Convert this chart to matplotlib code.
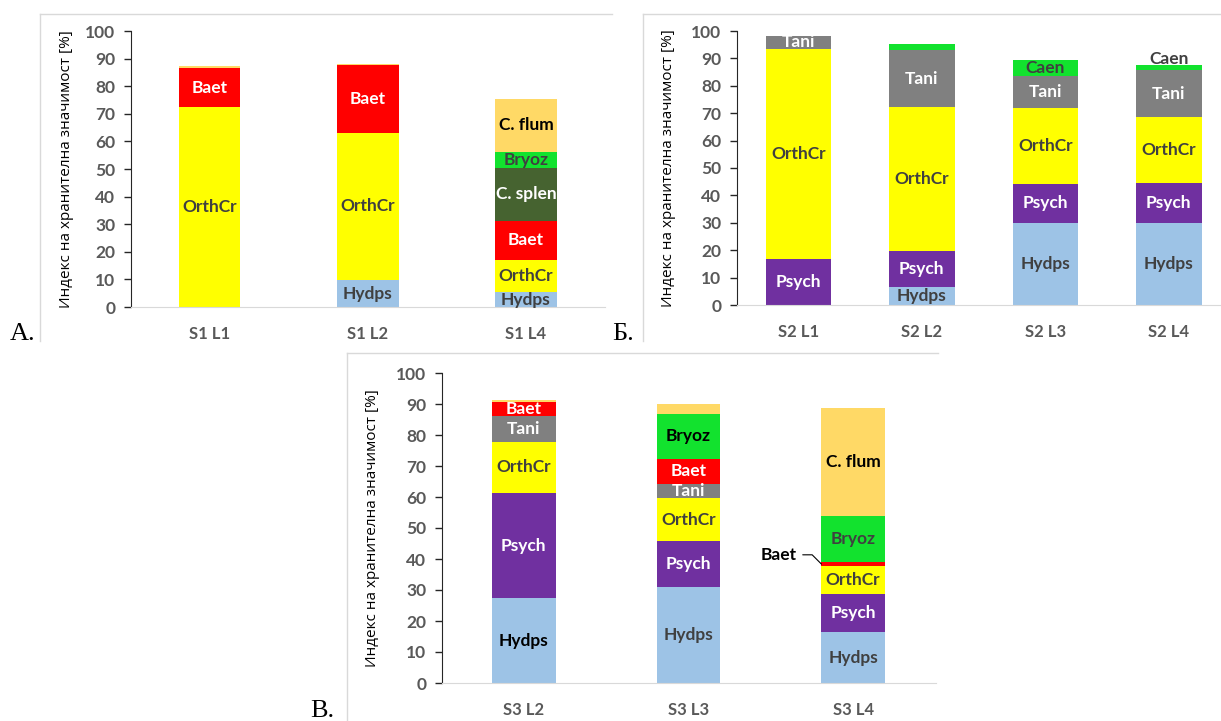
import matplotlib.pyplot as plt
from matplotlib.lines import Line2D

W, H = 1221, 721

# panel A: site 1
s1_sites = ["S1 L1", "S1 L2", "S1 L4"]
s1_hydps = [0, 9.7, 5.4]
s1_orthcr = [72.3, 53.5, 11.7]
s1_baet = [14.4, 24.5, 14.1]
s1_csplen = [0, 0, 19.2]
s1_bryoz = [0, 0, 5.8]
s1_cflum = [0.6, 0.3, 19.2]

# panel B: site 2
s2_sites = ["S2 L1", "S2 L2", "S2 L3", "S2 L4"]
s2_hydps = [0, 6.4, 29.8, 30.0]
s2_psych = [16.8, 13.4, 14.5, 14.6]
s2_orthcr = [76.8, 52.6, 27.5, 24.1]
s2_tani = [4.6, 20.5, 11.9, 16.9]
s2_caen = [0, 2.2, 5.8, 1.9]

# panel C: site 3
s3_sites = ["S3 L2", "S3 L3", "S3 L4"]
s3_hydps = [27.4, 31.0, 16.4]
s3_psych = [33.9, 14.8, 12.3]
s3_orthcr = [16.5, 13.8, 8.9]
s3_tani = [8.4, 4.6, 0]
s3_baet = [4.3, 8.2, 1.5]
s3_bryoz = [0, 14.4, 14.9]
s3_cflum = [0.7, 3.1, 34.8]

COLORS = {
    "Hydps": "#9DC3E6", "Psych": "#7030A0", "OrthCr": "#FFFF00",
    "Tani": "#808080", "Baet": "#FF0000", "C. splen": "#466330",
    "Bryoz": "#12E22E", "Caen": "#12E22E", "C. flum": "#FFD966",
}
TEXT_COLORS = {
    "Hydps": "#404040", "Psych": "white", "OrthCr": "#404040",
    "Tani": "white", "Baet": "white", "C. splen": "white",
    "Bryoz": "#404040", "Caen": "#404040", "C. flum": "black",
}

plt.rcParams["font.family"] = ["Lato", "Open Sans", "DejaVu Sans"]
GRAY = "#595959"
LABEL_SIZE = 12.5


def make_axes(fig, left, right, y0, y100):
    return fig.add_axes([left / W, 1 - y0 / H, (right - left) / W, (y0 - y100) / H])


def stacked(ax, sites, series, width, label_over=None):
    label_over = label_over or {}
    x = list(range(len(sites)))
    bottom = [0.0] * len(sites)
    for name, vals in series:
        ax.bar(x, vals, width, bottom=bottom, color=COLORS[name], linewidth=0)
        for i, v in enumerate(vals):
            if v >= 4:
                ax.text(i, bottom[i] + v / 2, name, ha="center", va="center",
                        fontsize=LABEL_SIZE, fontweight="bold",
                        color=label_over.get((name, i), TEXT_COLORS[name]))
        bottom = [b + v for b, v in zip(bottom, vals)]
    ax.set_xlim(-0.5, len(sites) - 0.5)
    ax.set_ylim(0, 100)
    ax.set_yticks(range(0, 101, 10))
    ax.set_xticks(x)
    ax.set_xticklabels(sites)
    for s in ("top", "right"):
        ax.spines[s].set_visible(False)
    ax.spines["bottom"].set_color("#D9D9D9")
    ax.spines["left"].set_color("#262626")
    ax.tick_params(axis="y", length=5, width=1, color="#262626", pad=6,
                   labelsize=12.5, labelcolor=GRAY)
    ax.tick_params(axis="x", length=0, pad=14, labelsize=12, labelcolor=GRAY)
    for t in ax.get_xticklabels() + ax.get_yticklabels():
        t.set_fontweight("bold")
    return bottom


fig = plt.figure(figsize=(W / 100, H / 100), dpi=100)

# panel frames
frame = dict(color="#D9D9D9", lw=1, transform=fig.transFigure)
for (x0, x1, y) in [(40, 612, 14), (643, 1221, 14), (347, 938, 353)]:
    fig.add_artist(Line2D([x0 / W, x1 / W], [1 - y / H, 1 - y / H], **frame))
for (x, y0, y1) in [(40, 14, 341), (643, 14, 341), (347, 353, 721)]:
    fig.add_artist(Line2D([x / W, x / W], [1 - y0 / H, 1 - y1 / H], **frame))

ylab = "Индекс на хранителна значимост [%]"
ylab_style = dict(rotation=90, ha="center", va="center", fontsize=11, family="Open Sans")

# A
ax1 = make_axes(fig, 130.5, 605, 307, 31)
stacked(ax1, s1_sites, [("Hydps", s1_hydps), ("OrthCr", s1_orthcr), ("Baet", s1_baet),
                        ("C. splen", s1_csplen), ("Bryoz", s1_bryoz), ("C. flum", s1_cflum)], 0.39)
fig.text(67 / W, 1 - 169 / H, ylab, **ylab_style)

# Б
ax2 = make_axes(fig, 736.6, 1230.6, 305, 31)
top2 = stacked(ax2, s2_sites, [("Hydps", s2_hydps), ("Psych", s2_psych), ("OrthCr", s2_orthcr),
                               ("Tani", s2_tani), ("Caen", s2_caen)], 0.53)
ax2.text(3, top2[3] - 0.8, "Caen", ha="center", va="bottom", fontsize=LABEL_SIZE,
         fontweight="bold", color="#404040")
fig.text(669 / W, 1 - 168 / H, ylab, **ylab_style)

# В
ax3 = make_axes(fig, 441.5, 935.5, 683, 373)
stacked(ax3, s3_sites, [("Hydps", s3_hydps), ("Psych", s3_psych), ("OrthCr", s3_orthcr),
                        ("Tani", s3_tani), ("Baet", s3_baet), ("Bryoz", s3_bryoz),
                        ("C. flum", s3_cflum)], 0.385,
        label_over={("Hydps", 0): "black", ("Bryoz", 1): "black"})
baet_y = s3_hydps[2] + s3_psych[2] + s3_orthcr[2] + s3_baet[2] / 2
ax3.annotate("Baet", xy=(2 - 0.385 / 2, baet_y), xytext=(1.66, baet_y + 3),
             ha="right", va="center", fontsize=LABEL_SIZE, fontweight="bold", color="black",
             arrowprops=dict(arrowstyle="-", lw=0.8, color="black", relpos=(1, 0.5),
                             shrinkA=2, shrinkB=0,
                             connectionstyle="angle,angleA=0,angleB=135,rad=0"))
fig.text(372 / W, 1 - 528 / H, ylab, **ylab_style)

# panel letters
serif = dict(family="Liberation Serif", fontsize=19, va="baseline", ha="left")
fig.text(10 / W, 1 - 340 / H, "А.", **serif)
fig.text(612 / W, 1 - 340 / H, "Б.", **serif)
fig.text(310 / W, 1 - 717 / H, "В.", **serif)

fig.savefig("out.png", dpi=100)
